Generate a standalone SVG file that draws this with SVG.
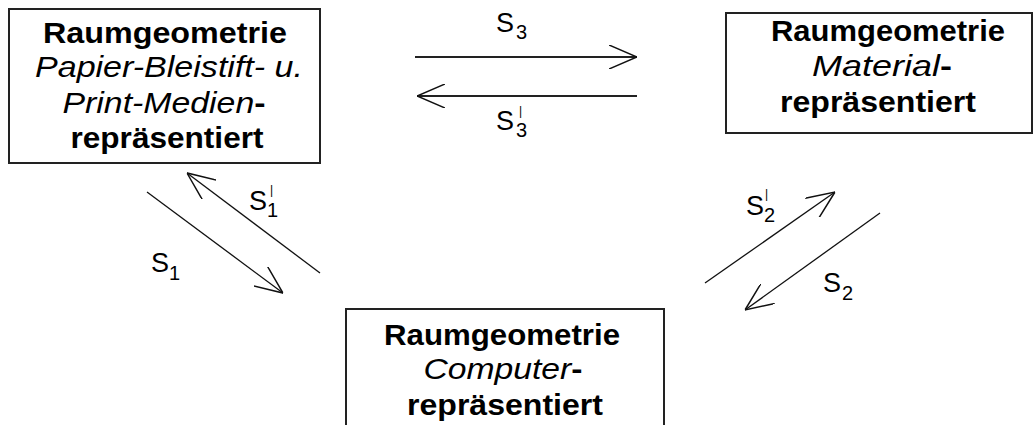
<svg xmlns="http://www.w3.org/2000/svg" width="1034" height="425" viewBox="0 0 1034 425">
  <style>
    .box { fill: #ffffff; stroke: #222222; stroke-width: 2; }
    .t { font-family: "Liberation Sans", Arial, sans-serif; font-size: 30px; font-weight: bold; fill: #000000; text-anchor: middle; }
    .it { font-style: italic; font-weight: normal; }
    .lbl { font-family: "Liberation Sans", Arial, sans-serif; font-size: 27px; fill: #000000; }
    .sub { font-family: "Liberation Sans", Arial, sans-serif; font-size: 20px; fill: #000000; }
    .pr { font-family: "Liberation Sans", Arial, sans-serif; font-size: 12px; fill: #000000; }
    .h { stroke: #222222; stroke-width: 1.8; fill: none; }
    .d { stroke: #111111; stroke-width: 1.3; fill: none; }
  </style>
  <defs>
    <marker id="ah" viewBox="0 0 28 24" refX="28" refY="12" markerWidth="28" markerHeight="24" markerUnits="userSpaceOnUse" orient="auto">
      <path d="M0,0 L28,12 L0,24" fill="none" stroke="#111111" stroke-width="1.5"/>
    </marker>
  </defs>
  <rect width="1034" height="425" fill="#ffffff"/>

  <g id="node-papier">
    <rect class="box" x="9" y="9" width="311" height="154"/>
    <text class="t" x="165" y="43" textLength="244" lengthAdjust="spacingAndGlyphs">Raumgeometrie</text>
    <text class="t it" x="169" y="77" textLength="268" lengthAdjust="spacingAndGlyphs">Papier-Bleistift- u.</text>
    <text class="t" x="164" y="113" textLength="203" lengthAdjust="spacingAndGlyphs"><tspan class="it">Print-Medien</tspan>-</text>
    <text class="t" x="167" y="148" textLength="193" lengthAdjust="spacingAndGlyphs">repräsentiert</text>
  </g>

  <g id="node-material">
    <rect class="box" x="726" y="13" width="306" height="120"/>
    <text class="t" x="888" y="41" textLength="234" lengthAdjust="spacingAndGlyphs">Raumgeometrie</text>
    <text class="t" x="882" y="76" textLength="140" lengthAdjust="spacingAndGlyphs"><tspan class="it">Material</tspan>-</text>
    <text class="t" x="878" y="112" textLength="196" lengthAdjust="spacingAndGlyphs">repräsentiert</text>
  </g>

  <g id="node-computer">
    <rect class="box" x="346" y="309" width="318" height="140"/>
    <text class="t" x="502" y="345" textLength="236" lengthAdjust="spacingAndGlyphs">Raumgeometrie</text>
    <text class="t" x="503" y="379" textLength="159" lengthAdjust="spacingAndGlyphs"><tspan class="it">Computer</tspan>-</text>
    <text class="t" x="505" y="415" textLength="196" lengthAdjust="spacingAndGlyphs">repräsentiert</text>
  </g>

  <g id="connectors">
    <line class="h" x1="415" y1="57" x2="637" y2="57" marker-end="url(#ah)"/>
    <line class="h" x1="637" y1="96" x2="417" y2="96" marker-end="url(#ah)"/>
    <line class="d" x1="147" y1="192" x2="283" y2="293" marker-end="url(#ah)"/>
    <line class="d" x1="320" y1="273" x2="187" y2="173" marker-end="url(#ah)"/>
    <line class="d" x1="705" y1="283" x2="835" y2="192" marker-end="url(#ah)"/>
    <line class="d" x1="880" y1="213" x2="745" y2="310" marker-end="url(#ah)"/>
  </g>

  <g id="labels">
    <text class="lbl" x="496" y="32">S</text>
    <text class="sub" x="516" y="39">3</text>

    <text class="lbl" x="496" y="130">S</text>
    <text class="pr" x="519" y="115">|</text>
    <text class="sub" x="516" y="137">3</text>

    <text class="lbl" x="151" y="272">S</text>
    <text class="sub" x="169" y="280">1</text>

    <text class="lbl" x="249" y="210">S</text>
    <text class="pr" x="270" y="194">|</text>
    <text class="sub" x="267" y="217">1</text>

    <text class="lbl" x="746" y="215">S</text>
    <text class="pr" x="765" y="198">|</text>
    <text class="sub" x="764" y="222">2</text>

    <text class="lbl" x="823" y="292">S</text>
    <text class="sub" x="842" y="300">2</text>
  </g>
</svg>
